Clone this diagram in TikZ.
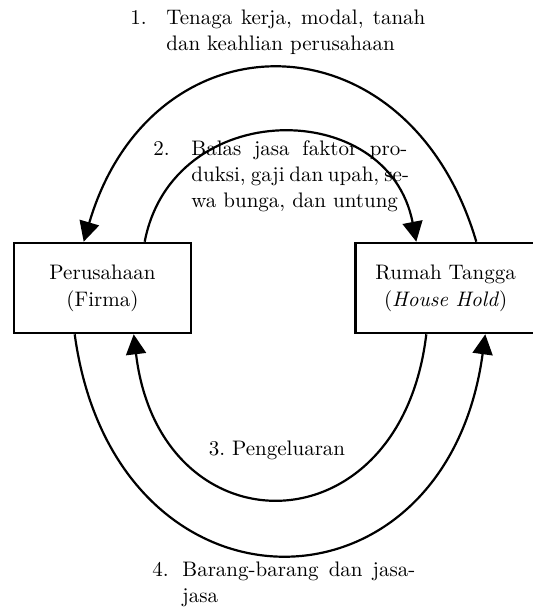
\documentclass[tikz,border=0pt]{standalone}
\usetikzlibrary{arrows.meta, positioning, calc}

\begin{document}
\begin{tikzpicture}[x=0.5pt, y=0.5pt, node distance=81pt,
    sector/.style={rectangle, draw, line width=1.3pt, minimum width=88.5pt, minimum height=45pt, align=center, font=\fontsize{10.5}{13.5}\selectfont},
    flowtext/.style={inner sep=0pt, anchor=west, font=\fontsize{10.5}{13}\selectfont},
    arrow/.style={-{Triangle[length=10pt, width=10pt]}, line width=1.1pt}]

    \useasboundingbox (0,0) rectangle (532,607);

    % Sectors
    \node [sector] (firma) at (102.5,319) {Perusahaan\\(Firma)};
    \node [sector, minimum width=97pt, right=of firma] (rumah) {Rumah Tangga\hspace*{7pt}\\(\textit{House Hold})\hspace*{7pt}};

    % Flow labels
    \node [flowtext] (faktor) at (130,574.5) {\begin{tabular}{@{}p{18pt}@{}p{129.5pt}@{}}1. & \makebox[129.5pt][s]{Tenaga kerja, modal, tanah}\\ & dan keahlian perusahaan\end{tabular}};
    \node [flowtext] (balas) at (153,431) {\begin{tabular}{@{}p{19pt}@{}p{108pt}@{}}2. & \makebox[108pt][s]{Balas jasa faktor pro-}\\ & \makebox[108pt][s]{duksi, gaji dan upah, se-}\\ & wa bunga, dan untung\end{tabular}};
    \node [flowtext, anchor=center] (belanja) at (277,157) {3.\ Pengeluaran};
    \node [flowtext] (barang) at (152,22.5) {\begin{tabular}{@{}p{15pt}@{}p{116.5pt}@{}}4. & \makebox[116.5pt][s]{Barang-barang dan jasa-}\\ & jasa\end{tabular}};

    % Flows
    \draw [arrow] ($(rumah.north west)+(122,0)$) .. controls +(-68,230.7) and +(68,230.7) .. ($(firma.north west)+(71,0)$);
    \draw [arrow] ($(firma.north west)+(132,0)$) .. controls +(28,145.3) and +(-28,145.3) .. ($(rumah.north west)+(62,0)$);
    \draw [arrow] ($(rumah.south west)+(72,0)$) .. controls +(-26,-218.7) and +(26,-218.7) .. ($(firma.south west)+(121,0)$);
    \draw [arrow] ($(firma.south west)+(62,0)$) .. controls +(40,-293.3) and +(-40,-293.3) .. ($(rumah.south west)+(131,0)$);

\end{tikzpicture}
\end{document}
